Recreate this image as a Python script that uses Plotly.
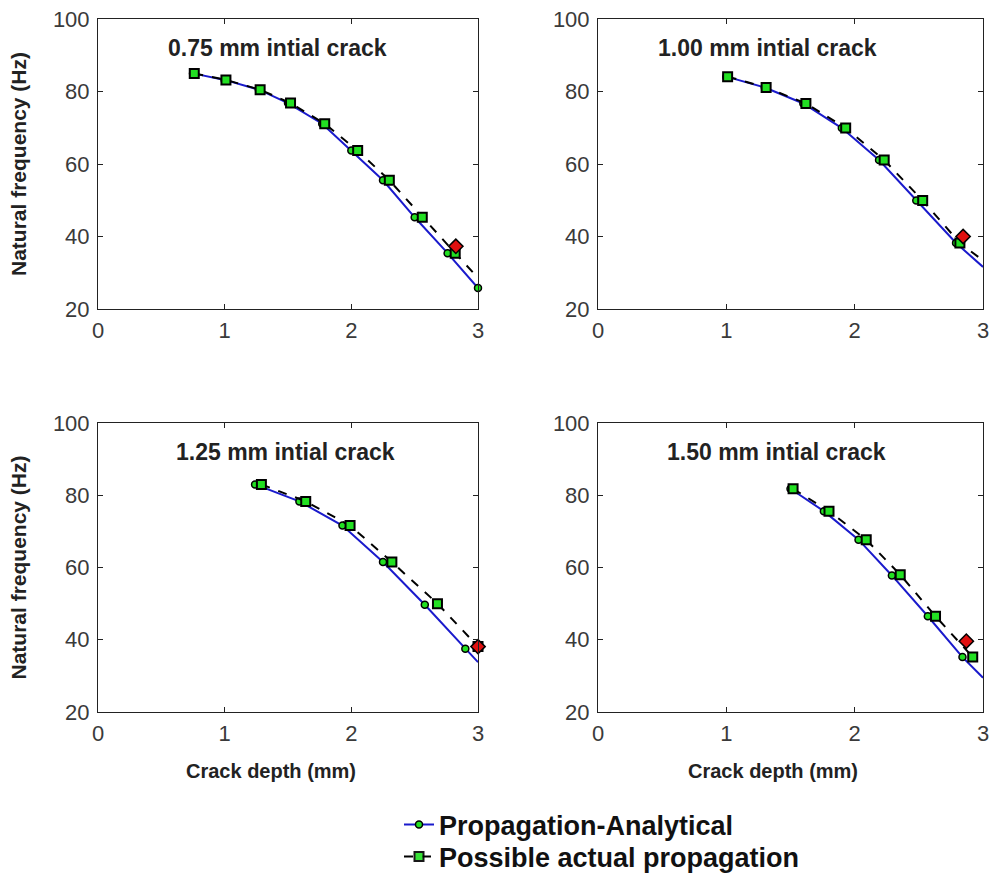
import plotly.graph_objects as go

# ---------------- data ----------------
panel_titles = ["0.75 mm intial crack", "1.00 mm intial crack",
                "1.25 mm intial crack", "1.50 mm intial crack"]

# Propagation-Analytical (crack depth mm, natural frequency Hz)
analytic_depth_1 = [0.75, 1.0, 1.27, 1.5, 1.77, 2.0, 2.25, 2.5, 2.76, 3.0]
analytic_freq_1 = [85.0, 83.2, 80.5, 76.8, 71.1, 63.7, 55.5, 45.3, 35.4, 25.8]
analytic_depth_2 = [1.0, 1.3, 1.6, 1.9, 2.19, 2.48, 2.79, 3.0]
analytic_freq_2 = [84.1, 81.1, 76.7, 69.9, 61.1, 49.9, 38.2, 31.6]
analytic_depth_3 = [1.24, 1.59, 1.93, 2.25, 2.58, 2.9, 3.0]
analytic_freq_3 = [83.0, 78.3, 71.6, 61.5, 49.7, 37.5, 33.8]
analytic_depth_4 = [1.5, 1.76, 2.03, 2.29, 2.57, 2.84, 3.0]
analytic_freq_4 = [81.8, 75.6, 67.7, 57.8, 46.5, 35.2, 29.5]

# Possible actual propagation
actual_depth_1 = [0.76, 1.01, 1.28, 1.52, 1.79, 2.05, 2.30, 2.56, 2.82, 3.0]
actual_freq_1 = [85.0, 83.2, 80.5, 76.8, 71.1, 63.7, 55.5, 45.3, 35.4, 28.6]
actual_depth_2 = [1.01, 1.31, 1.62, 1.93, 2.23, 2.53, 2.82, 3.0]
actual_freq_2 = [84.1, 81.1, 76.7, 69.9, 61.1, 49.9, 38.2, 33.4]
actual_depth_3 = [1.29, 1.64, 1.99, 2.32, 2.68, 3.0]
actual_freq_3 = [83.0, 78.3, 71.6, 61.5, 50.0, 38.1]
actual_depth_4 = [1.52, 1.80, 2.09, 2.355, 2.63, 2.92]
actual_freq_4 = [81.8, 75.6, 67.7, 58.0, 46.5, 35.2]

# failure points (red diamonds)
failure_depth = [2.825, 2.845, 3.0, 2.87]
failure_freq = [37.3, 40.0, 38.1, 39.6]

# whether the last point of each series carries a marker
analytic_last_marker = [True, False, False, False]
actual_last_marker = [False, False, True, True]

x_ticks = [0, 1, 2, 3]
y_ticks = [20, 40, 60, 80, 100]
x_title = "Crack depth (mm)"
y_title = "Natural frequency (Hz)"
legend_names = ["Propagation-Analytical", "Possible actual propagation"]

# ---------------- layout geometry ----------------
W, H = 993, 874
FONT = "Liberation Sans, Arial, sans-serif"
xdoms = [(98 / W, 478 / W), (598 / W, 983 / W)]
ydoms = [(1 - 309 / H, 1 - 19 / H), (1 - 712 / H, 1 - 423 / H)]

analytic_d = [analytic_depth_1, analytic_depth_2, analytic_depth_3, analytic_depth_4]
analytic_f = [analytic_freq_1, analytic_freq_2, analytic_freq_3, analytic_freq_4]
actual_d = [actual_depth_1, actual_depth_2, actual_depth_3, actual_depth_4]
actual_f = [actual_freq_1, actual_freq_2, actual_freq_3, actual_freq_4]

fig = go.Figure()
GREEN = "#22e022"
BLUE = "#1a1acc"

for i in range(4):
    r, c = divmod(i, 2)
    sfx = "" if i == 0 else str(i + 1)
    xa, ya = "x" + sfx, "y" + sfx
    op_a = [1] * (len(analytic_d[i]) - 1) + [1 if analytic_last_marker[i] else 0]
    op_b = [1] * (len(actual_d[i]) - 1) + [1 if actual_last_marker[i] else 0]
    fig.add_trace(go.Scatter(
        x=analytic_d[i], y=analytic_f[i], xaxis=xa, yaxis=ya,
        mode="lines+markers", name=legend_names[0], showlegend=(i == 0),
        legend="legend",
        line=dict(color=BLUE, width=2),
        marker=dict(symbol="circle", size=7, color=GREEN, opacity=op_a,
                    line=dict(color="black", width=1.5)),
        cliponaxis=False))
    fig.add_trace(go.Scatter(
        x=actual_d[i], y=actual_f[i], xaxis=xa, yaxis=ya,
        mode="lines+markers", name=legend_names[1], showlegend=(i == 0),
        legend="legend2",
        line=dict(color="black", width=2, dash="dash"),
        marker=dict(symbol="square", size=9, color=GREEN, opacity=op_b,
                    line=dict(color="black", width=2)),
        cliponaxis=False))
    fig.add_trace(go.Scatter(
        x=[failure_depth[i]], y=[failure_freq[i]], xaxis=xa, yaxis=ya,
        mode="markers", showlegend=False,
        marker=dict(symbol="diamond", size=11, color="#e01010",
                    line=dict(color="black", width=1.5)),
        cliponaxis=False))

    axcommon = dict(showline=True, linecolor="#222", linewidth=1, mirror="ticks",
                    ticks="inside", ticklen=5, tickcolor="#222", showgrid=False,
                    zeroline=False, automargin=False,
                    tickfont=dict(family=FONT, size=22, color="#3a3a3a"))
    xkey = "xaxis" + sfx
    ykey = "yaxis" + sfx
    fig.update_layout({
        xkey: dict(axcommon, domain=list(xdoms[c]), range=[0, 3], tickvals=x_ticks,
                   anchor=ya, ticklabelstandoff=2),
        ykey: dict(axcommon, domain=list(ydoms[r]), range=[20, 100], tickvals=y_ticks,
                   anchor=xa, ticklabelstandoff=3,
                   title=dict(text=("<b>" + y_title + "</b>") if c == 0 else "",
                              font=dict(family=FONT, size=21, color="#222"),
                              standoff=20)),
    })
    fig.add_annotation(x=[1.42, 1.32, 1.48, 1.39][i], y=92, xref=xa, yref=ya,
                       text="<b>" + panel_titles[i] + "</b>", showarrow=False,
                       font=dict(family=FONT, size=23, color="#222"))
    if r == 1:
        fig.add_annotation(x=0.455, y=-0.205, xref=xa + " domain", yref=ya + " domain",
                           xanchor="center", yanchor="middle",
                           text="<b>" + x_title + "</b>", showarrow=False,
                           font=dict(family=FONT, size=20, color="#222"))

leg = dict(xanchor="left", yanchor="middle", bgcolor="rgba(0,0,0,0)",
           font=dict(family=FONT, size=27, color="#111", weight="bold"))
fig.update_layout(
    width=W, height=H, margin=dict(l=0, r=0, t=0, b=0, autoexpand=False),
    paper_bgcolor="white", plot_bgcolor="white",
    legend=dict(leg, x=399 / W, y=1 - 825 / H),
    legend2=dict(leg, x=399 / W, y=1 - 857 / H),
    font=dict(family=FONT),
)

fig.write_html("out.html", config={"displayModeBar": False},
               post_script="document.body.style.margin='0px';")
